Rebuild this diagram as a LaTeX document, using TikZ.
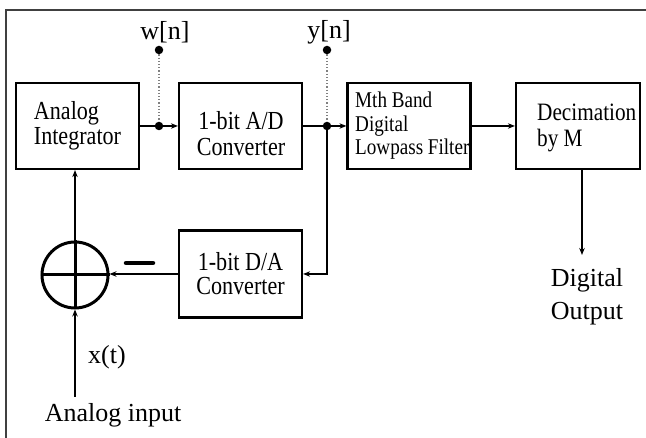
\documentclass[tikz,border=0pt]{standalone}
\usepackage{fontspec}
\setmainfont{Liberation Serif}
\newfontfamily\boxfam{Liberation Serif}[FakeStretch=0.85]
\usetikzlibrary{arrows.meta}
\begin{document}
\begin{tikzpicture}[x=1pt,y=-1pt,
  blk/.style={draw, line width=2.2pt, minimum width=123pt, minimum height=86pt, inner sep=0pt},
  sig/.style={line width=1.5pt},
  arr/.style={sig, -{Stealth[length=7pt,width=5.5pt]}},
  boxfont/.style={font=\boxfam\fontsize{26}{25}\selectfont, align=center, inner sep=0pt},
  lbl/.style={font=\fontsize{26}{33}\selectfont, inner sep=0pt, align=center},
  bigdot/.style={circle, fill, inner sep=0pt, minimum size=8.5pt},
  probe/.style={dotted, line width=1.2pt, gray}
]
\useasboundingbox (0,0) rectangle (646,438);
\draw[line width=1.6pt, black!75] (646,10) -- (6,10) -- (6,438);

% blocks
\node[blk, boxfont, align=left] (int) at (77.5,126) {Analog\\Integrator};
\node[blk] (ad) at (240.5,126) {};
\node[boxfont, font=\boxfam\fontsize{26}{26}\selectfont] (adtext) at (241,134) {1-bit A/D\\Converter};
\node[blk] (lpf) at (409,126) {};
\node[anchor=west, align=left, inner sep=0pt, font=\boxfam\fontsize{22.5}{23.5}\selectfont] (lpftext) at (355,126) {Mth Band\\Digital\\Lowpass Filter};
\node[blk, minimum width=124pt] (dec) at (578,126) {};
\node[anchor=west, align=left, inner sep=0pt, font=\boxfam\fontsize{25}{26}\selectfont] (dectext) at (537,128) {Decimation\\by M};
\node[blk, minimum height=87pt, boxfont, font=\boxfam\fontsize{26}{24}\selectfont] (da) at (240.5,274) {1-bit D/A\\Converter};

% summing junction
\node[circle, draw, line width=3pt, minimum size=66pt, inner sep=0pt] (sum) at (75,275) {};
\draw[line width=3pt] (sum.north) -- (sum.south) (sum.west) -- (sum.east);
\draw[line width=4.5pt, line cap=round] (126,263) -- (153,263);

% probe points
\coordinate (wj) at (159,126);
\coordinate (yj) at (327,126);
\node[bigdot] (wjd) at (wj) {};
\node[bigdot] (yjd) at (yj) {};
\node[bigdot] (wdot) at (159,50) {};
\node[bigdot] (ydot) at (327,50) {};
\draw[probe] (wdot) -- (wjd);
\draw[probe] (ydot) -- (yjd);
\node[lbl] (wlbl) at (165,32) {w[n]};
\node[lbl] (ylbl) at (329,32) {y[n]};

% connectors
\draw[arr] (int.east) -- (ad.west);
\draw[sig] (ad.east) -- (yj);
\draw[arr] (yj) -- (lpf.west);
\draw[arr] (yj) -- (yj |- da.east) -- (da.east);
\draw[arr] (lpf.east) -- (dec.west);
\coordinate (dout) at (582,255);
\draw[arr] (dec.south -| dout) -- (dout);
\node[lbl] (doutlbl) at (587,297) {Digital\\Output};
\draw[arr] (da.west) -- (da.west -| sum.east);
\draw[arr] (sum.north) -- (int.south -| sum.north);
\coordinate (xin) at (75,397);
\draw[arr] (xin) -- (sum.south);
\node[lbl] (xlbl) at (107,357) {x(t)};
\node[lbl] (inlbl) at (113,415) {Analog input};
\end{tikzpicture}
\end{document}
